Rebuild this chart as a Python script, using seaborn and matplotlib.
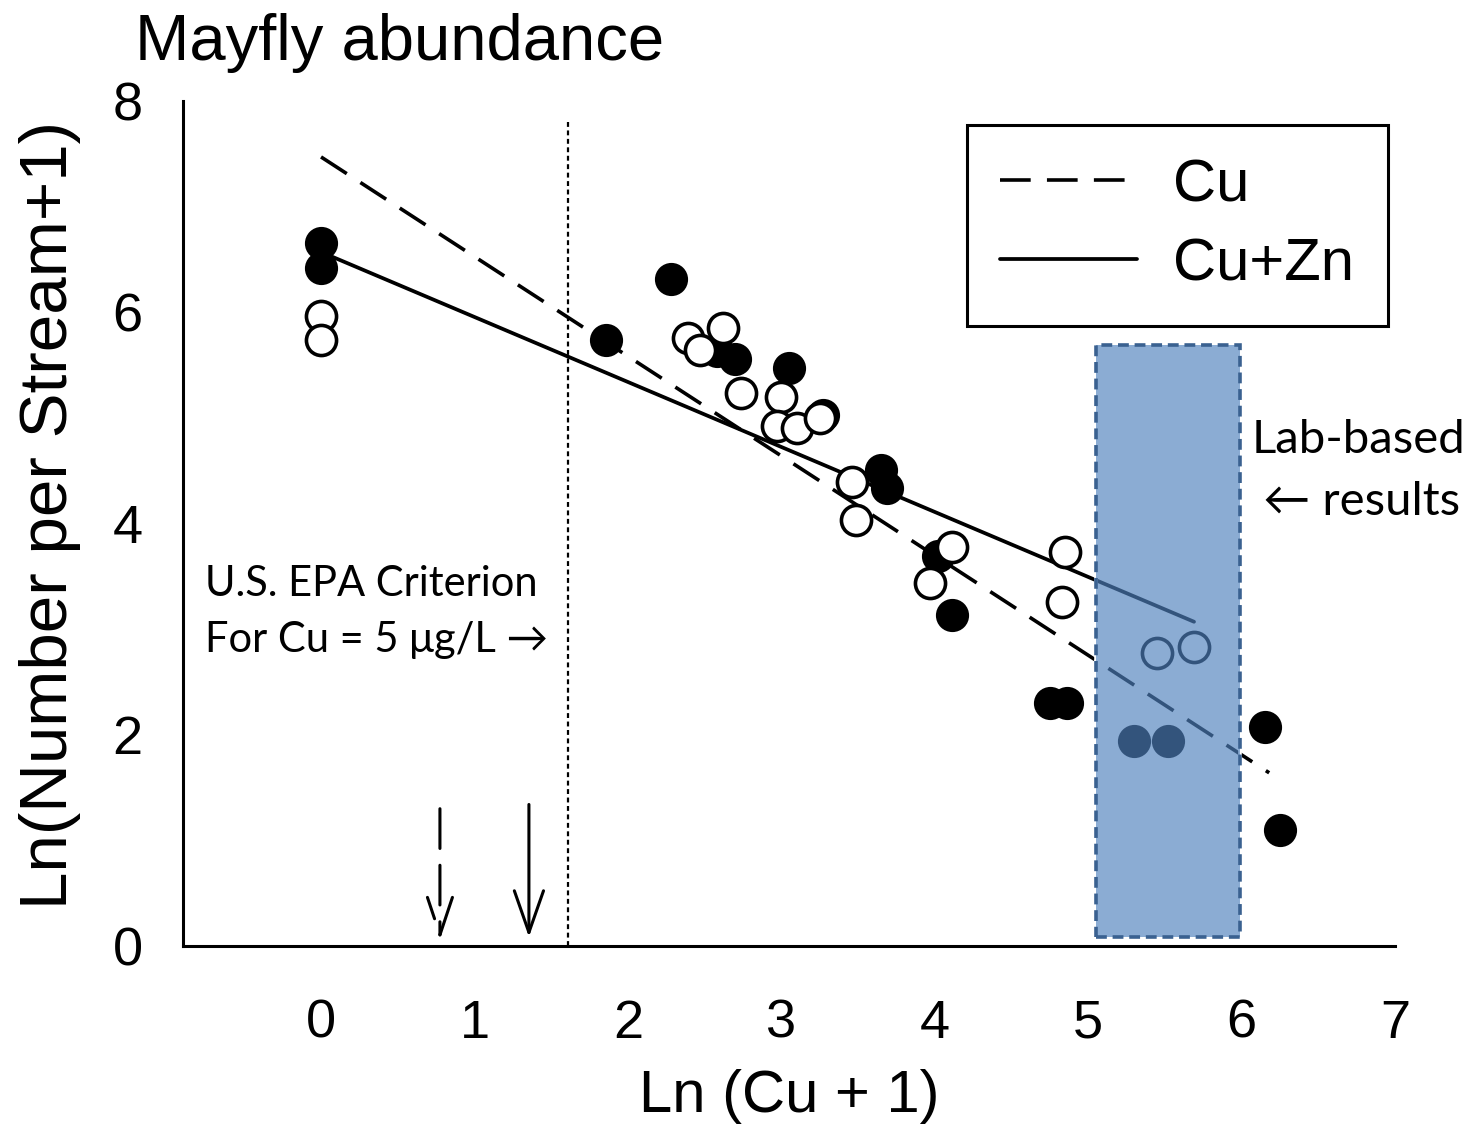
import numpy as np
import pandas as pd
import seaborn as sns
import matplotlib.pyplot as plt
from matplotlib.patches import Rectangle

# ---- data ----
cu_x = [0.00, 0.00, 2.28, 1.86, 2.58, 2.70, 3.05, 3.27, 3.65, 3.69, 4.02, 4.11, 4.75, 4.86, 5.30, 5.52, 6.15, 6.25]
cu_y = [6.66, 6.42, 6.31, 5.74, 5.63, 5.56, 5.47, 5.03, 4.51, 4.34, 3.69, 3.13, 2.30, 2.30, 1.94, 1.94, 2.07, 1.10]

cuzn_x = [0.00, 0.00, 2.39, 2.47, 2.62, 2.74, 3.00, 2.97, 3.10, 3.25, 3.46, 3.49, 4.11, 3.97, 4.85, 4.83, 5.45, 5.69]
cuzn_y = [5.96, 5.74, 5.76, 5.64, 5.85, 5.24, 5.20, 4.92, 4.90, 5.00, 4.39, 4.03, 3.78, 3.44, 3.73, 3.26, 2.77, 2.83]

fit_cu_x = [0.0, 6.18]
fit_cu_y = [7.47, 1.64]
fit_cuzn_x = [0.0, 5.69]
fit_cuzn_y = [6.57, 3.07]

epa_x = np.log(5)          # criterion line
arrow_dashed_x = 0.775
arrow_solid_x = 1.355
lab_x0, lab_x1 = 5.05, 5.99
lab_y0, lab_y1 = 0.085, 5.69

xticks = [0, 1, 2, 3, 4, 5, 6, 7]
yticks = [0, 2, 4, 6, 8]

# ---- style ----
sns.set_style("white")
plt.rcParams['font.family'] = ['Liberation Sans', 'DejaVu Sans']
plt.rcParams['text.color'] = 'black'
plt.rcParams['axes.labelcolor'] = 'black'
plt.rcParams['xtick.color'] = 'black'
plt.rcParams['ytick.color'] = 'black'
calibri_like = ['Lato', 'DejaVu Sans']

fig = plt.figure(figsize=(14.79, 11.33), dpi=100)
ax = fig.add_axes([0.1237, 0.165, 0.8195, 0.7459])

# regression lines
sns.lineplot(x=fit_cu_x, y=fit_cu_y, ax=ax, color='black', lw=2.6,
             dashes=False, label='Cu', zorder=2)
ax.lines[-1].set_dashes((8.5, 4.5))
sns.lineplot(x=fit_cuzn_x, y=fit_cuzn_y, ax=ax, color='black', lw=2.7,
             label='Cu+Zn', zorder=2)

# points
sns.scatterplot(x=cu_x, y=cu_y, ax=ax, s=470, color='black',
                edgecolor='black', linewidth=2.2, zorder=3, legend=False)
sns.scatterplot(x=cuzn_x, y=cuzn_y, ax=ax, s=470, color='white',
                edgecolor='black', linewidth=2.6, zorder=4, legend=False)

# EPA criterion line
ax.plot([epa_x, epa_x], [0, 7.82], color='black', lw=1.6,
        linestyle=(0, (2.2, 1.6)), zorder=1)

# arrows
ax.annotate('', xy=(arrow_dashed_x, 0.06), xytext=(arrow_dashed_x, 1.30),
            arrowprops=dict(arrowstyle='->,head_length=0.9,head_width=0.3',
                            mutation_scale=30, lw=2.2, ls=(0, (13, 5.5)),
                            color='black', shrinkA=0, shrinkB=0))
ax.annotate('', xy=(arrow_solid_x, 0.085), xytext=(arrow_solid_x, 1.34),
            arrowprops=dict(arrowstyle='->,head_length=1.0,head_width=0.35',
                            mutation_scale=30, lw=2.2, color='black',
                            shrinkA=0, shrinkB=0))

# lab-based box (drawn on top, translucent)
ax.add_patch(Rectangle((lab_x0, lab_y0), lab_x1 - lab_x0, lab_y1 - lab_y0,
                       facecolor='none', edgecolor='white', lw=2.6, zorder=5))
ax.add_patch(Rectangle((lab_x0, lab_y0), lab_x1 - lab_x0, lab_y1 - lab_y0,
                       facecolor=(79/255, 129/255, 189/255, 0.66),
                       edgecolor='#3A6190', lw=2.6, ls=(0, (3, 1.6)), zorder=6))

# annotation texts
ax.text(-0.756, 3.31, 'U.S. EPA Criterion', fontsize=30, family=calibri_like,
        ha='left', va='baseline')
ax.text(-0.756, 2.78, 'For Cu = 5 \u03bcg/L \u2192', fontsize=30, family=calibri_like,
        ha='left', va='baseline')
ax.text(6.76, 4.67, 'Lab-based', fontsize=34, family=calibri_like,
        ha='center', va='baseline', clip_on=False)
ax.text(6.785, 4.08, '\u2190 results', fontsize=34, family=calibri_like,
        ha='center', va='baseline', clip_on=False)

# axes
ax.set_xlim(-0.9, 7)
ax.set_ylim(0, 8)
ax.set_xticks(xticks)
ax.set_yticks(yticks)
ax.tick_params(axis='both', labelsize=39, direction='out', length=7, width=2,
               color='black')
ax.tick_params(axis='x', pad=31)
ax.tick_params(axis='y', pad=22)
for side in ['top', 'right']:
    ax.spines[side].set_visible(False)
for side in ['left', 'bottom']:
    ax.spines[side].set_color('black')
    ax.spines[side].set_linewidth(2.2)

ax.set_xlabel('Ln (Cu + 1)', fontsize=43)
ax.set_ylabel('Ln(Number per Stream+1)', fontsize=48.5)
ax.xaxis.set_label_coords(0.5, -0.145)
ax.yaxis.set_label_coords(-0.084, 0.51)

fig.text(135/1479, 0.947, 'Mayfly abundance', fontsize=47, ha='left', va='baseline')

leg = ax.legend(loc='upper right', bbox_to_anchor=(0.994, 0.9716),
                borderaxespad=0, fontsize=43, frameon=True, fancybox=False,
                edgecolor='black', handlelength=2.3, handletextpad=0.6,
                labelspacing=0.4, borderpad=0.56)
leg.get_frame().set_linewidth(2.2)
leg.get_frame().set_alpha(1)

fig.savefig('out.png', dpi=100)
